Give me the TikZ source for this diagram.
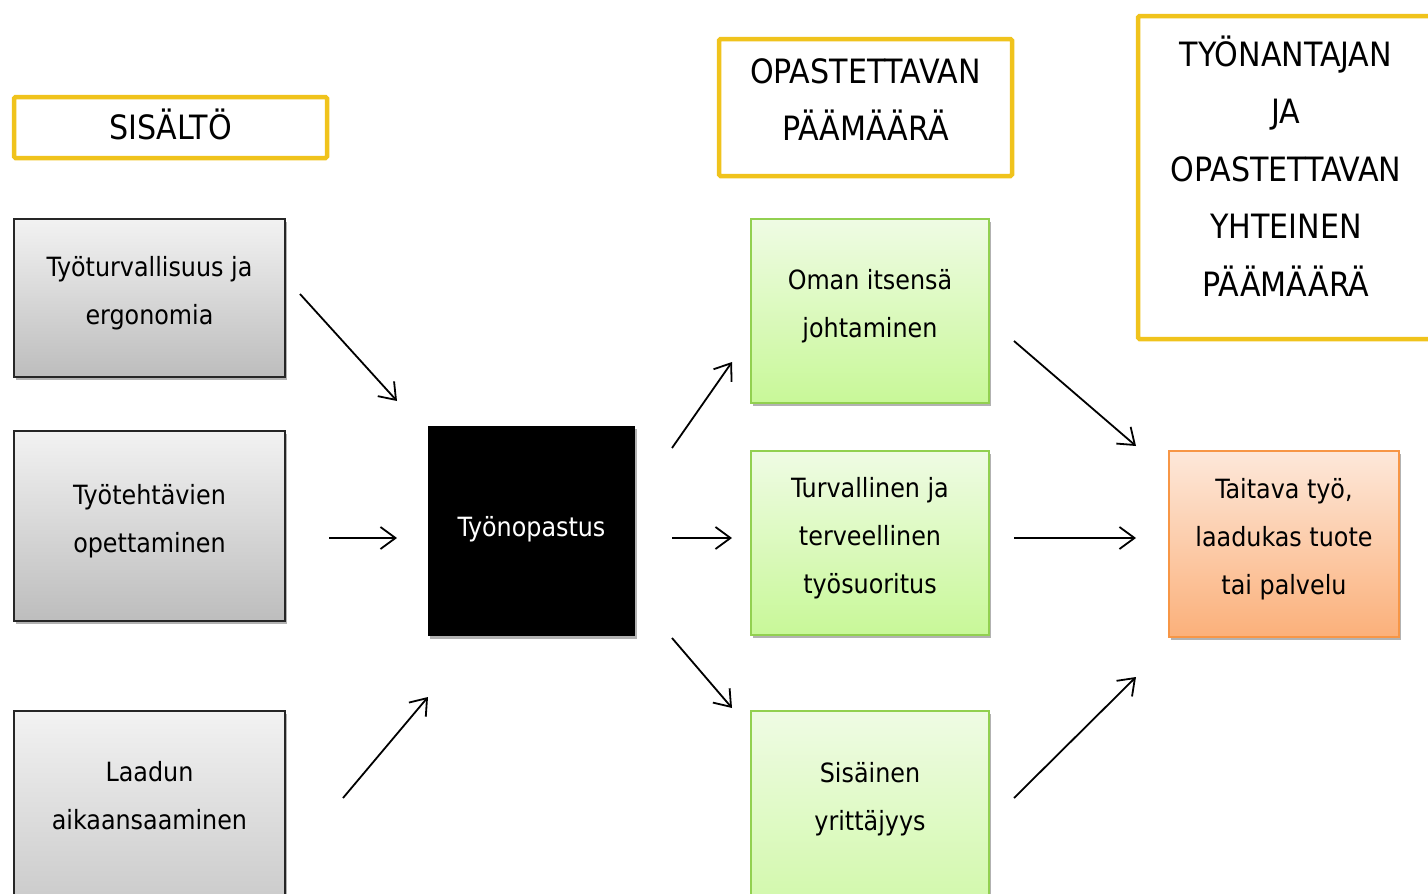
\documentclass[tikz,border=0pt]{standalone}
\usepackage{fontspec}
\setmainfont{DejaVu Sans Condensed}
\usetikzlibrary{arrows.meta,shadows}
\definecolor{ybord}{HTML}{F0C31C}
\definecolor{gtop}{HTML}{F2F2F2}
\definecolor{gbot}{HTML}{BDBDBD}
\definecolor{grtop}{HTML}{EFFBE4}
\definecolor{grbot}{HTML}{C8F898}
\definecolor{grbord}{HTML}{92D050}
\definecolor{otop}{HTML}{FDE8DA}
\definecolor{obot}{HTML}{FBB07A}
\definecolor{obord}{HTML}{F79646}
\begin{document}
\begin{tikzpicture}[x=1pt,y=-1pt,
  headbox/.style={draw=ybord,line width=4.5pt,fill=white,rounded corners=1.5pt,inner sep=0pt,
    font=\fontsize{33.5}{57.5}\selectfont,align=center},
  bodytext/.style={font=\fontsize{26.5}{48}\selectfont,align=center},
  shad/.style={drop shadow={shadow xshift=2pt,shadow yshift=-3pt,opacity=0.3,fill=black}},
  boxtext/.style={bodytext,text depth=16pt,inner sep=0pt,shad},
  graybox/.style={boxtext,draw=black!85,line width=2pt,top color=gtop,bottom color=gbot},
  greenbox/.style={boxtext,draw=grbord,line width=2pt,top color=grtop,bottom color=grbot},
  orangebox/.style={boxtext,draw=obord,line width=2pt,top color=otop,bottom color=obot},
  blackbox/.style={bodytext,text depth=10pt,fill=black,text=white,inner sep=0pt,shad},
  arr/.style={line width=1.8pt,-{Straight Barb[length=15pt,width=22pt]}}
]
\useasboundingbox (0,0) rectangle (1428,894);
\clip (0,0) rectangle (1428,894);

% heading boxes
\node[headbox,text depth=6pt,minimum width=313pt,minimum height=61pt] (h1) at (170.5,127.5) {SISÄLTÖ};
\node[headbox,text depth=16pt,minimum width=293pt,minimum height=137pt] (h2) at (865.5,107.5) {OPASTETTAVAN\\PÄÄMÄÄRÄ};
\node[headbox,text depth=23pt,minimum width=296pt,minimum height=323pt] (h3) at (1286,177.5) {TYÖNANTAJAN\\JA\\OPASTETTAVAN\\YHTEINEN\\PÄÄMÄÄRÄ};

% left column
\node[graybox,minimum width=271pt,minimum height=158pt] (g1) at (149.5,298) {Työturvallisuus ja\\ergonomia};
\node[graybox,minimum width=271pt,minimum height=190pt] (g2) at (149.5,526) {Työtehtävien\\opettaminen};
\node[graybox,minimum width=271pt,minimum height=260pt] (g3) at (149.5,841) {};
\node[bodytext] (g3t) at (149.5,796) {Laadun\\aikaansaaminen};

% center
\node[blackbox,minimum width=207pt,minimum height=210pt] (c) at (531.5,531) {Työnopastus};

% green column
\node[greenbox,minimum width=238pt,minimum height=184pt] (r1) at (870,311) {Oman itsensä\\johtaminen};
\node[greenbox,minimum width=238pt,minimum height=184pt] (r2) at (870,543) {Turvallinen ja\\terveellinen\\työsuoritus};
\node[greenbox,minimum width=238pt,minimum height=260pt] (r3) at (870,841) {};
\node[bodytext] (r3t) at (870,799) {Sisäinen\\yrittäjyys};

% result
\node[orangebox,minimum width=230pt,minimum height=186pt] (o) at (1284,544) {Taitava työ,\\laadukas tuote\\tai palvelu};

% arrow end points
\coordinate (a1s) at (300,294);   \coordinate (a1e) at (397,401);
\coordinate (a2s) at (329,538);   \coordinate (a2e) at (397,538);
\coordinate (a3s) at (343,798);   \coordinate (a3e) at (428,697);
\coordinate (b1s) at (672,448);   \coordinate (b1e) at (732,362);
\coordinate (b2s) at (672,538);   \coordinate (b2e) at (732,538);
\coordinate (b3s) at (672,638);   \coordinate (b3e) at (732,708);
\coordinate (d1s) at (1014,341);  \coordinate (d1e) at (1136,446);
\coordinate (d2s) at (1014,538);  \coordinate (d2e) at (1136,538);
\coordinate (d3s) at (1014,798);  \coordinate (d3e) at (1136,677);

\draw[arr] (a1s) -- (a1e);
\draw[arr] (a2s) -- (a2e);
\draw[arr] (a3s) -- (a3e);
\draw[arr] (b1s) -- (b1e);
\draw[arr] (b2s) -- (b2e);
\draw[arr] (b3s) -- (b3e);
\draw[arr] (d1s) -- (d1e);
\draw[arr] (d2s) -- (d2e);
\draw[arr] (d3s) -- (d3e);
\end{tikzpicture}
\end{document}
